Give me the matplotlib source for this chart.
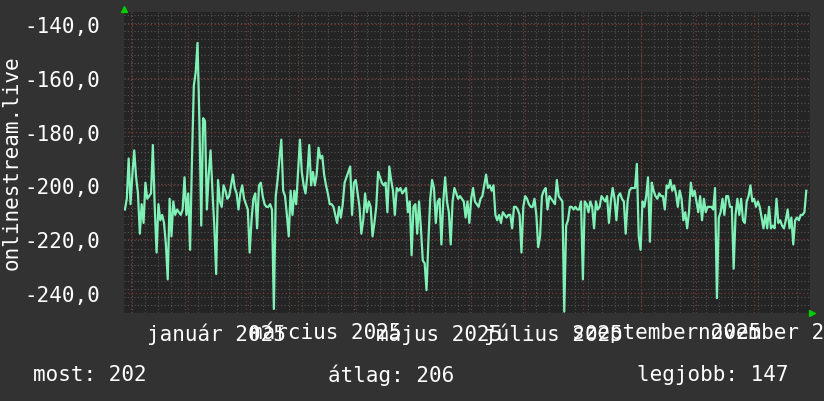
import datetime as dt
import numpy as np
import matplotlib
matplotlib.use("Agg")
import matplotlib.pyplot as plt
import matplotlib.dates as mdates
from matplotlib.ticker import FixedLocator, FuncFormatter

# daily rank values (plotted as negative numbers), starting 2024-11-28
start = dt.date(2024, 11, 28)
rank = [
    209, 205, 190, 207, 196, 187, 197, 203, 218, 207, 214, 199, 205, 204, 203, 185,
    208, 225, 207, 213, 211, 214, 222, 235, 205, 219, 206, 211, 209, 210, 211, 209,
    197, 211, 203, 224, 191, 163, 158, 147, 176, 215, 175, 176, 209, 196, 187, 202,
    215, 233, 198, 206, 208, 200, 202, 205, 204, 200, 196, 201, 203,
    209, 203, 200, 205, 207, 209, 225, 213, 205, 203, 216, 200, 199, 204, 207, 208,
    208, 207, 209, 246, 204, 198, 190, 183, 202, 204, 211, 219, 202, 211, 202, 207,
    195, 183, 195, 200, 203, 196, 185, 200, 195, 200, 196, 186, 190, 189, 196, 200,
    203, 207, 207, 208, 211, 214, 208, 212, 207, 199, 197, 195, 193,
    211, 199, 198, 203, 208, 218, 213, 203, 210, 206, 208, 219, 214, 208, 195, 197,
    199, 200, 199, 210, 193, 198, 202, 211, 201, 202, 201, 203, 202, 201, 210, 206,
    226, 208, 207, 218, 206, 216, 228, 229, 239, 221, 205, 198, 201, 214, 206, 205,
    222, 206, 197, 206, 210, 222, 206, 201, 203, 205, 204, 205, 206, 212,
    206, 214, 205, 201, 206, 207, 208, 205, 204, 200, 196, 201, 200, 202, 200, 211,
    213, 211, 214, 210, 211, 212, 211, 211, 216, 208, 208, 209, 211, 225, 208, 204,
    205, 207, 208, 208, 205, 211, 223, 219, 204, 202, 201, 209, 204, 205, 206, 207,
    198, 204, 205, 206, 247, 215, 213, 208, 208, 209, 208, 209, 209,
    206, 235, 206, 207, 210, 206, 208, 216, 206, 209, 208, 204, 205, 206, 204, 214,
    206, 201, 205, 213, 204, 203, 205, 206, 218, 206, 202, 201, 201, 201, 192, 219,
    224, 206, 208, 204, 197, 221, 199, 202, 204, 205, 203, 204, 204, 209, 200, 201,
    198, 202, 200, 203, 208, 202, 205, 213, 210, 216, 210, 199, 204,
    202, 206, 210, 204, 213, 205, 210, 208, 208, 208, 209, 201, 242, 212, 210, 205,
    211, 204, 204, 208, 208, 231, 211, 205, 211, 205, 213, 214, 206, 204, 200, 206,
    205, 208, 206, 208, 212, 216, 211, 216, 208, 216, 215, 216, 205, 214, 213, 215,
    216, 213, 209, 216, 212, 222, 213, 212, 213, 211, 211, 210, 202,
]
y_ticks = [-140, -160, -180, -200, -220, -240]
month_labels = ["január 2025", "március 2025", "május 2025",
                "július 2025", "szeptember 2025", "november 2025"]
label_dates = [dt.date(2025, 1, 16), dt.date(2025, 3, 16), dt.date(2025, 5, 16),
               dt.date(2025, 7, 16), dt.date(2025, 9, 15), dt.date(2025, 11, 15)]
stats = [("most", 202), ("átlag", 206), ("legjobb", 147)]

dates = [start + dt.timedelta(days=i) for i in range(len(rank))]
values = -np.array(rank, dtype=float)

FIG_BG = "#323232"
AX_BG = "#242424"
LINE = "#7ff0b6"
MAJOR = "#7a3434"
MINOR = "#545454"
FONT = "DejaVu Sans Mono"

fig = plt.figure(figsize=(8.24, 4.02), dpi=100, facecolor=FIG_BG)
ax = fig.add_axes([124 / 824, 1 - 314 / 402, 686 / 824, 301 / 402])
ax.set_facecolor(AX_BG)

x0 = mdates.date2num(start) - 0.5
x1 = mdates.date2num(dt.date(2025, 12, 1))
ax.set_xlim(x0, x1)
ax.set_ylim(-247.5, -135.5)

# grid: weekly (minor) and monthly (major) verticals
mondays = mdates.drange(dt.datetime(2024, 12, 2), dt.datetime(2025, 12, 2), dt.timedelta(days=7))
months = [mdates.date2num(dt.date(2024 + (11 + m) // 12, (11 + m) % 12 + 1, 1)) for m in range(13)]
for xv in mondays:
    ax.axvline(xv, color=MINOR, lw=0.8, ls=(0, (1, 2)), zorder=1)
for yv in np.arange(-136.5, -248, -3):
    ax.axhline(yv, color=MINOR, lw=0.8, ls=(0, (1, 2)), zorder=1)
for xv in months:
    ax.axvline(xv, color=MAJOR, lw=0.9, ls=(0, (1, 2)), zorder=2)
for yv in y_ticks:
    ax.axhline(yv, color=MAJOR, lw=0.9, ls=(0, (1, 2)), zorder=2)

ax.plot(mdates.date2num(dates), values, color=LINE, lw=1.6, zorder=3)

for s in ax.spines.values():
    s.set_visible(False)

ax.yaxis.set_major_locator(FixedLocator(y_ticks))
ax.yaxis.set_major_formatter(FuncFormatter(lambda v, p: f"{v:.1f}".replace(".", ",")))
ax.tick_params(axis="y", length=0, pad=17, labelsize=15, labelcolor="white")
for t in ax.get_yticklabels():
    t.set_family(FONT)
ax.set_xticks([])

for d, lab in zip(label_dates, month_labels):
    ax.text(mdates.date2num(d), -0.03, lab, transform=ax.get_xaxis_transform(),
            ha="center", va="top", color="white", fontsize=15, family=FONT,
            clip_on=False)

fig.text(12 / 824, 1 - 163 / 402, "onlinestream.live", rotation=90,
         ha="center", va="center", color="white", fontsize=15, family=FONT)

xs = [33, 328, 637]
for x, (name, val) in zip(xs, stats):
    fig.text(x / 824, 1 - 375 / 402, f"{name}: {val}", ha="left", va="center",
             color="white", fontsize=15, family=FONT)

# green axis arrows
ax.plot([0], [1.01], marker="^", color="#00cc00", ms=5, transform=ax.transAxes, clip_on=False)
ax.plot([1.003], [0], marker=">", color="#00cc00", ms=5, transform=ax.transAxes, clip_on=False)

fig.savefig("out.png", dpi=100, facecolor=FIG_BG)
